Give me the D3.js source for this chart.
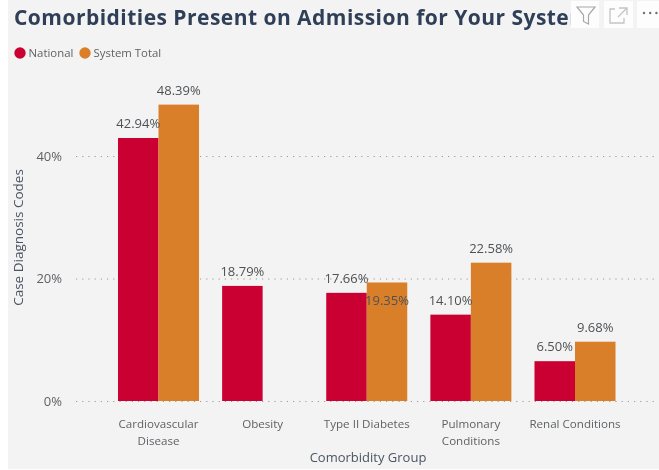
<!DOCTYPE html>
<html><head><meta charset="utf-8">
<script src="https://cdnjs.cloudflare.com/ajax/libs/d3/7.8.5/d3.min.js"></script>
<style>
html,body{margin:0;padding:0;background:#fff;overflow:hidden}
svg{display:block;filter:blur(0.35px)}
text{font-family:"Open Sans","Noto Sans",sans-serif}
</style></head><body><div id="chart"></div>
<script>
const categories=[["Cardiovascular","Disease"],["Obesity"],["Type II Diabetes"],["Pulmonary","Conditions"],["Renal Conditions"]];
const seriesNames=["National","System Total"];
const national=[42.94,18.79,17.66,14.10,6.50];
const systemTotal=[48.39,null,19.35,22.58,9.68];
const yTicks=[0,20,40];
const seriesColors=["#cb0032","#da7f29"];
const titleText="Comorbidities Present on Admission for Your System";
const W=659,H=470;
const svg=d3.select("#chart").append("svg").attr("width",W).attr("height",H);
svg.append("rect").attr("x",8).attr("y",0).attr("width",W-8).attr("height",H-1).attr("fill","#f3f3f3");

const x0=d3.scaleBand().domain(d3.range(categories.length)).range([118,615.5]).paddingInner(0.222).paddingOuter(0);
const x1=d3.scaleBand().domain([0,1]).range([0,x0.bandwidth()]);
const y=d3.scaleLinear().domain([0,40]).range([401,156]);
const ink="#5f6265";

// title
svg.append("clipPath").attr("id","tc").append("rect").attr("x",0).attr("y",0).attr("width",571).attr("height",40);
svg.append("text").attr("x",14).attr("y",24.5).attr("clip-path","url(#tc)").attr("fill","#2f3f57")
 .attr("font-size",21).attr("font-weight",700).style("letter-spacing","0.47px").text(titleText);

// header icons
[[571,28],[604,29],[637,22]].forEach(b=>svg.append("rect").attr("x",b[0]).attr("y",1).attr("width",b[1]).attr("height",27).attr("fill","#fdfdfd"));
svg.append("path").attr("d","M577 7H595L588.5 15V24L583.5 21.5V15Z").attr("fill","none").attr("stroke","#a8a8a8").attr("stroke-width",1.2);
svg.append("path").attr("d","M615 9H610V23H624V18M619 8H627V15M627 8L618 17").attr("fill","none").attr("stroke","#c4c4c4").attr("stroke-width",1.3);
svg.append("g").selectAll("circle").data([0,1,2]).join("circle").attr("cx",d=>644+d*6.2).attr("cy",13).attr("r",1.2).attr("fill","#707070");

// legend
const legendX=[20,85],legendTx=[28.5,93.5];
const leg=svg.append("g").selectAll("g").data(seriesNames).join("g");
leg.append("circle").attr("cx",(d,i)=>legendX[i]).attr("cy",53).attr("r",5.7).attr("fill",(d,i)=>seriesColors[i]);
leg.append("text").attr("x",(d,i)=>legendTx[i]).attr("y",57).attr("font-size",11.4).attr("fill",ink).text(d=>d);

// y axis and gridlines
const yAxis=d3.axisLeft(y).tickValues(yTicks).tickSize(0).tickFormat(d=>d+"%");
const ya=svg.append("g").attr("transform","translate(65,0)").call(yAxis);
ya.select(".domain").remove();
ya.selectAll("text").attr("font-size",13).attr("fill",ink).attr("font-family",'"Open Sans"');
svg.append("g").selectAll("line").data(yTicks).join("line").attr("x1",76).attr("x2",656)
 .attr("y1",d=>y(d)+.5).attr("y2",d=>y(d)+.5).attr("stroke","#9a9a9a").attr("stroke-width",1).attr("stroke-dasharray","1.2 5");

// bars
const rows=[national,systemTotal];
const bars=svg.append("g");
rows.forEach((vals,s)=>{
 bars.selectAll(null).data(vals.map((v,i)=>({v,i})).filter(d=>d.v!=null)).join("rect")
  .attr("x",d=>x0(d.i)+x1(s)).attr("width",x1.bandwidth())
  .attr("y",d=>y(d.v)).attr("height",d=>y(0)-y(d.v)).attr("fill",seriesColors[s]);
});

// labels
const labelDy={"1-2":33};
const labels=svg.append("g");
rows.forEach((vals,s)=>{
 labels.selectAll(null).data(vals.map((v,i)=>({v,i})).filter(d=>d.v!=null)).join("text")
  .attr("x",d=>x0(d.i)+x1(s)+x1.bandwidth()/2).attr("y",d=>y(d.v)-10+(labelDy[s+"-"+d.i]||0))
  .attr("text-anchor","middle").attr("font-size",13).attr("fill","#4f5255").text(d=>d.v.toFixed(2)+"%");
});

// x axis
const xl=svg.append("g").selectAll("text").data(categories).join("text")
 .attr("text-anchor","middle").attr("font-size",11.6).attr("fill",ink)
 .attr("transform",(d,i)=>`translate(${x0(i)+x0.bandwidth()/2},428)`);
xl.selectAll("tspan").data(d=>d).join("tspan").attr("x",0).attr("y",(d,i)=>i*17).text(d=>d);

svg.append("text").attr("x",368).attr("y",462).attr("text-anchor","middle").attr("font-size",13).attr("fill","#4a5562").text("Comorbidity Group");
svg.append("text").attr("transform","translate(23,237.5) rotate(-90)").attr("text-anchor","middle").attr("font-size",13.5).attr("fill","#4a5562").text("Case Diagnosis Codes");
</script></body></html>
